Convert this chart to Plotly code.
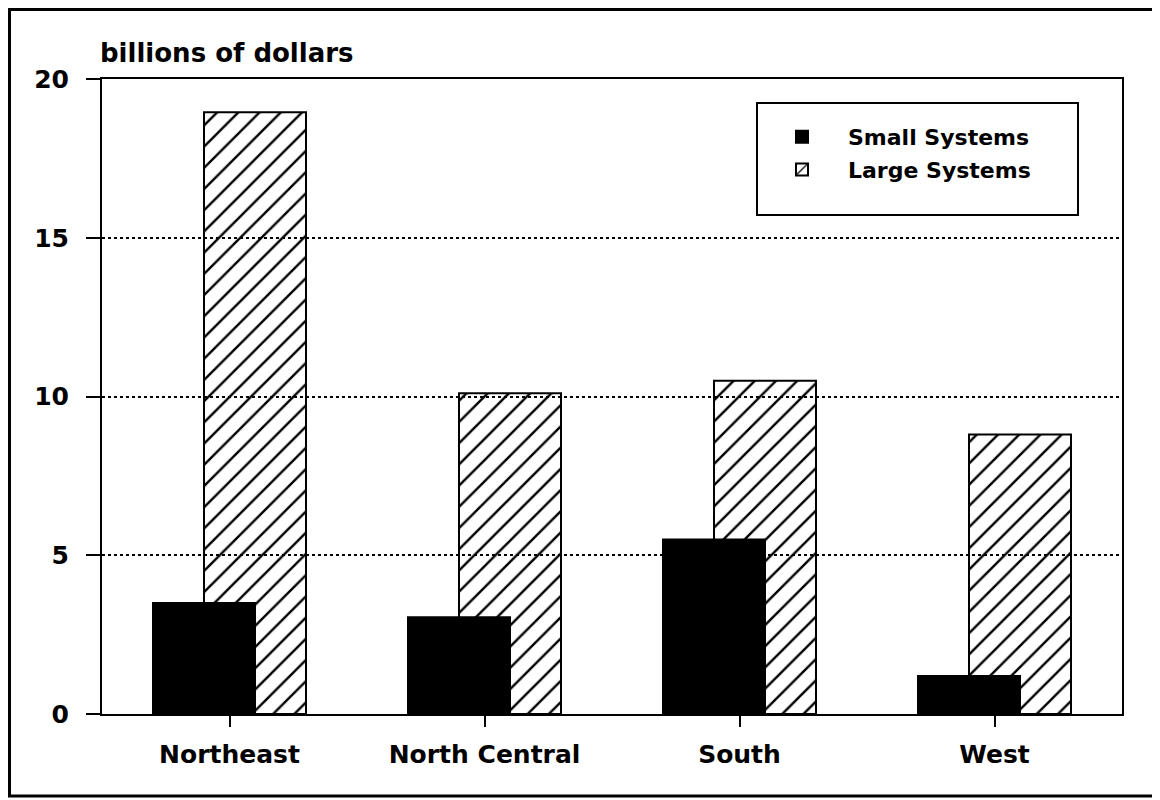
import plotly.graph_objects as go

regions = ["Northeast", "North Central", "South", "West"]
small_systems = [3.5, 3.05, 5.5, 1.2]
large_systems = [18.95, 10.1, 10.5, 8.8]
y_ticks = [0, 5, 10, 15, 20]

FONT = "DejaVu Sans"
# page has an 8px body margin; size the figure so it fits the 1160x800 window
W, H = 1152, 792
OFF = 8
# plot area in window pixels: x 102..1122, y 79..714
ML, MT = 102 - OFF, 79 - OFF
MR, MB = W - (1122 - OFF), H - (714 - OFF)
PW, PH = W - ML - MR, H - MT - MB


def px(xw):
    """window x pixel -> paper x"""
    return (xw - OFF - ML) / PW


def py(yw):
    """window y pixel -> paper y"""
    return (H - MB - (yw - OFF)) / PH


fig = go.Figure()

fig.add_trace(go.Bar(
    x=regions, y=large_systems, name="Large Systems",
    offset=-0.1, width=0.4,
    marker=dict(color="black", line=dict(color="black", width=2),
                pattern=dict(shape="/", size=15, solidity=0.16, fillmode="replace")),
    legendrank=2, legendgroup="b",
))
fig.add_trace(go.Bar(
    x=regions, y=small_systems, name="Small Systems",
    offset=-0.3, width=0.4,
    marker=dict(color="black", line=dict(color="black", width=2)),
    legendrank=1, legendgroup="a",
))

fig.update_layout(
    width=W, height=H,
    margin=dict(l=ML, r=MR, t=MT, b=MB),
    barmode="overlay",
    paper_bgcolor="white", plot_bgcolor="white",
    font=dict(family=FONT, color="black", size=25, weight="bold"),
    showlegend=True,
    legend=dict(
        x=px(756), y=py(116), xanchor="left", yanchor="top",
        borderwidth=0, bgcolor="rgba(0,0,0,0)",
        font=dict(family=FONT, size=22, color="black", weight="bold"),
        tracegroupgap=1, itemwidth=82,
    ),
    xaxis=dict(
        type="category", range=[-0.5, 3.5],
        showline=True, linecolor="black", linewidth=2, mirror=True,
        ticks="outside", ticklen=11, tickwidth=2, tickcolor="black",
        showgrid=False, zeroline=False,
        tickfont=dict(family=FONT, size=25, color="black", weight="bold"),
        ticklabelstandoff=6,
    ),
    yaxis=dict(
        range=[0, 20], tickvals=y_ticks,
        showline=True, linecolor="black", linewidth=2, mirror=True,
        ticks="outside", ticklen=14, tickwidth=2, tickcolor="black",
        showgrid=True, gridcolor="black", gridwidth=1.5, griddash="dot",
        zeroline=False,
        tickfont=dict(family=FONT, size=25, color="black", weight="bold"),
        ticklabelstandoff=12,
    ),
    annotations=[dict(
        text="billions of dollars", xref="paper", yref="paper",
        x=px(98), y=py(53), xanchor="left", yanchor="middle",
        showarrow=False,
        font=dict(family=FONT, size=26, color="black", weight="bold"),
    )],
    shapes=[
        # legend box
        dict(type="rect", xref="paper", yref="paper",
             x0=px(757), x1=px(1078), y0=py(215), y1=py(103),
             line=dict(color="black", width=2), fillcolor="white", layer="below"),
        # outer frame
        dict(type="rect", xref="paper", yref="paper",
             x0=px(9.5), x1=px(1156), y0=py(796), y1=py(9.5),
             line=dict(color="black", width=3), fillcolor="rgba(0,0,0,0)",
             layer="above"),
    ],
)

fig.write_html("out.html")
